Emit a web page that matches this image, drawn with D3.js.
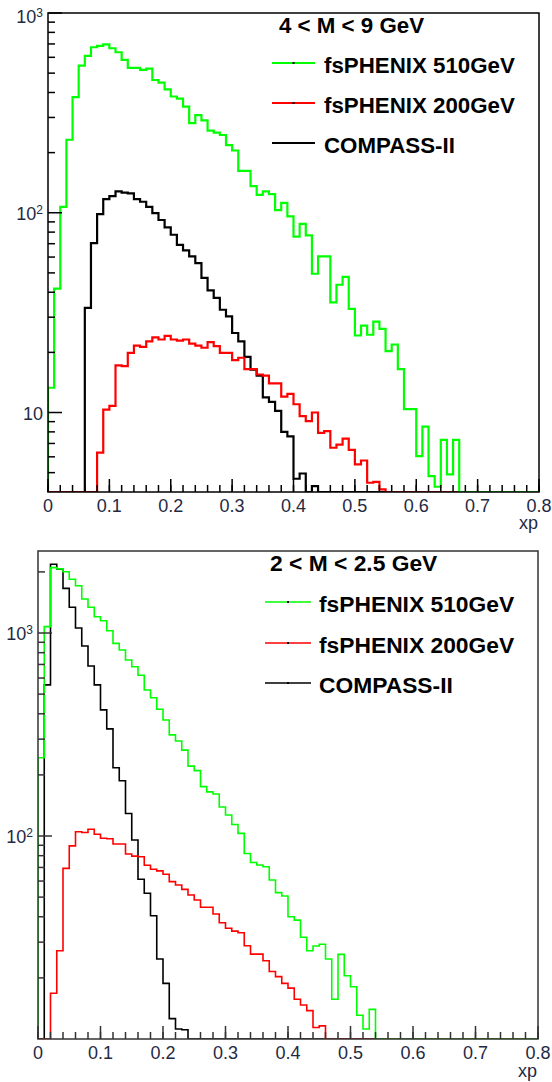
<!DOCTYPE html>
<html>
<head>
<meta charset="utf-8">
<script src="https://cdn.jsdelivr.net/npm/d3@7"></script>
<style>
  body { margin: 0; background: #fff; }
  svg text { font-family: "Liberation Sans", Arial, Helvetica, sans-serif; }
</style>
</head>
<body>
<div id="chart"></div>
<script>
// xp distributions, 80 bins of width 0.01 starting at xp = 0 (0 = empty bin)
const binWidth = 0.01;
const xpTicks = [0, 0.1, 0.2, 0.3, 0.4, 0.5, 0.6, 0.7, 0.8];
const seriesNames = ["fsPHENIX 510GeV", "fsPHENIX 200GeV", "COMPASS-II"];

// 4 < M < 9 GeV
const highMassTitle = "4 < M < 9 GeV";
const highMass510 = [
  13.3, 41.7, 107, 232, 379, 545, 610, 674, 684, 697,
  666, 636, 582, 531, 531, 519, 527, 462, 448, 415,
  382, 373, 340, 281, 308, 290, 258, 252, 245, 218,
  205, 162, 162, 136, 123, 128, 124, 103, 112, 96,
  76, 88, 77, 49.5, 60.5, 60.5, 35.6, 43.6, 47.7, 33,
  24.3, 27.2, 24.5, 28.5, 26.2, 20.3, 21.9, 16.5, 10.4, 10.4,
  6.05, 8.5, 4.8, 4.25, 7.3, 4.9, 7.3, 0, 0, 0,
  0, 0, 0, 0, 0, 0, 0, 0, 0, 0
];
const highMass200 = [
  0, 0, 0, 0, 0, 0, 0, 0, 6.3, 10.35,
  10.8, 17.2, 17.05, 19.9, 21.6, 21.3, 22.7, 23.8, 23.2, 24.2,
  23.2, 22.9, 23.2, 22.1, 21.6, 21.1, 22.5, 21.5, 19.9, 19.9,
  18.3, 18.8, 16.5, 16.5, 15.5, 15.3, 14.0, 14.0, 12.0, 12.4,
  11.0, 9.6, 9.05, 10.0, 7.9, 8.07, 6.66, 6.9, 7.4, 6.5,
  5.5, 5.75, 4.45, 4.5, 4.12, 0, 0, 0, 0, 0,
  0, 0, 0, 0, 0, 0, 0, 0, 0, 0,
  0, 0, 0, 0, 0, 0, 0, 0, 0, 0
];
const highMassCompass = [
  0, 0, 0, 0, 0, 0, 33.4, 70.5, 98.5, 117,
  121, 128, 126, 125, 117, 113.5, 107, 99.6, 92, 84.5,
  77.6, 69, 64.8, 60.5, 56, 47.2, 40.9, 37.5, 32.7, 30.3,
  25, 22.7, 19, 16.4, 15.3, 11.9, 11.3, 10.2, 8.0, 7.6,
  4.66, 4.95, 0, 4.28, 0, 0, 0, 0, 0, 0,
  0, 0, 0, 0, 0, 0, 0, 0, 0, 0,
  0, 0, 0, 0, 0, 0, 0, 0, 0, 0,
  0, 0, 0, 0, 0, 0, 0, 0, 0, 0
];

// 2 < M < 2.5 GeV
const lowMassTitle = "2 < M < 2.5 GeV";
const lowMass510 = [
  243, 1075, 2100, 2070, 2005, 1840, 1710, 1470, 1340, 1203,
  1150, 1026, 889, 824, 736, 682, 619, 524, 480, 421,
  373, 315, 294, 265, 221, 210, 175, 165, 161, 139,
  127, 114, 103, 82, 74, 72, 70.6, 60.7, 52.6, 50.6,
  40.0, 38.5, 31.7, 27.2, 28.7, 29.3, 24.8, 15.7, 26.1, 20.5,
  18.1, 13.1, 11.2, 14.0, 0, 0, 0, 0, 0, 0,
  0, 0, 0, 0, 0, 0, 0, 0, 0, 0,
  0, 0, 0, 0, 0, 0, 0, 0, 0, 0
];
const lowMass200 = [
  0, 0, 16.8, 27.2, 69.3, 89.4, 105, 104, 108, 102,
  97.5, 97, 91.4, 91.4, 81.5, 79.6, 79, 71.8, 68.6, 67.3,
  64.8, 59.6, 57.4, 54.6, 51.2, 48.4, 44.6, 44.6, 41.3, 37.4,
  35.1, 34.0, 33.4, 28.8, 26.2, 26.2, 24.3, 21.5, 20.3, 18.8,
  17.8, 15.7, 14.7, 13.8, 11.4, 11.6, 0, 0, 0, 0,
  0, 0, 0, 0, 0, 0, 0, 0, 0, 0,
  0, 0, 0, 0, 0, 0, 0, 0, 0, 0,
  0, 0, 0, 0, 0, 0, 0, 0, 0, 0
];
const lowMassCompass = [
  0, 555, 2180, 2060, 1660, 1340, 1058, 863, 688, 555,
  418, 337, 217, 187, 129, 95.5, 61.2, 52.2, 40.5, 24.8,
  18.8, 12.6, 11.2, 11.1, 0, 0, 0, 0, 0, 0,
  0, 0, 0, 0, 0, 0, 0, 0, 0, 0,
  0, 0, 0, 0, 0, 0, 0, 0, 0, 0,
  0, 0, 0, 0, 0, 0, 0, 0, 0, 0,
  0, 0, 0, 0, 0, 0, 0, 0, 0, 0,
  0, 0, 0, 0, 0, 0, 0, 0, 0, 0
];

const colors = ["#00ff00", "#ff0000", "#000000"];
const labelColor = "#1f2a44";

const svg = d3.select("#chart")
  .append("svg")
  .attr("width", 552)
  .attr("height", 1082)
  .style("display", "block");

function drawPanel(opt) {
  const g = svg.append("g");
  const x = d3.scaleLinear().domain([0, 0.8]).range([opt.left, opt.right]);
  const y = d3.scaleLog().domain(opt.yDomain).range([opt.bottom, opt.top]);
  const yMin = opt.yDomain[0];

  // clip to the frame
  const clipId = "clip" + opt.id;
  g.append("clipPath").attr("id", clipId)
    .append("rect")
    .attr("x", opt.left).attr("y", opt.top - 2)
    .attr("width", opt.right - opt.left)
    .attr("height", opt.bottom - opt.top + 2);

  const line = d3.line()
    .x(d => x(d.x))
    .y(d => y(Math.max(d.v, yMin)))
    .curve(d3.curveStepAfter);

  // draw black first, then red, then green on top
  [2, 1, 0].forEach(k => {
    const counts = opt.series[k];
    const pts = [{x: 0, v: 0}];
    counts.forEach((c, i) => pts.push({x: i * binWidth, v: c}));
    pts.push({x: counts.length * binWidth, v: counts[counts.length - 1]});
    g.append("path")
      .attr("clip-path", `url(#${clipId})`)
      .attr("d", line(pts))
      .attr("fill", "none")
      .attr("stroke", colors[k])
      .attr("stroke-width", opt.histWidth);
  });

  // frame
  g.append("rect")
    .attr("x", opt.left).attr("y", opt.top)
    .attr("width", opt.right - opt.left)
    .attr("height", opt.bottom - opt.top)
    .attr("fill", "none")
    .attr("stroke", opt.frameColor)
    .attr("stroke-width", 1.5);

  // x axis ticks (inside, pointing up)
  const xMinor = d3.range(0, 41).map(i => i * 0.02);
  g.selectAll(".xminor").data(xMinor).enter().append("line")
    .attr("x1", d => x(d)).attr("x2", d => x(d))
    .attr("y1", opt.bottom).attr("y2", opt.bottom - 7)
    .attr("stroke", opt.frameColor).attr("stroke-width", 1.5);
  g.selectAll(".xmajor").data(xpTicks).enter().append("line")
    .attr("x1", d => x(d)).attr("x2", d => x(d))
    .attr("y1", opt.bottom).attr("y2", opt.bottom - 13)
    .attr("stroke", opt.frameColor).attr("stroke-width", 1.5);
  g.selectAll(".xlab").data(xpTicks).enter().append("text")
    .attr("x", d => x(d))
    .attr("y", opt.bottom + 20)
    .attr("text-anchor", "middle")
    .attr("font-size", 18)
    .attr("fill", labelColor)
    .text(d => d === 0 ? "0" : d3.format(".1f")(d));
  g.append("text")
    .attr("x", opt.right - 1)
    .attr("y", opt.xpY)
    .attr("text-anchor", "end")
    .attr("font-size", 18)
    .attr("fill", labelColor)
    .text("xp");

  // y axis ticks (inside, pointing right)
  const yAll = y.ticks(30).filter(d => d > yMin * 1.001 && d < opt.yDomain[1] * 0.999);
  const yMajor = opt.yMajor;
  const yMinorTicks = yAll.filter(d => yMajor.indexOf(d) < 0);
  g.selectAll(".yminor").data(yMinorTicks).enter().append("line")
    .attr("x1", opt.left).attr("x2", opt.left + 7)
    .attr("y1", d => y(d)).attr("y2", d => y(d))
    .attr("stroke", opt.frameColor).attr("stroke-width", 1.5);
  g.selectAll(".ymajor").data(yMajor).enter().append("line")
    .attr("x1", opt.left).attr("x2", opt.left + 14)
    .attr("y1", d => y(d)).attr("y2", d => y(d))
    .attr("stroke", opt.frameColor).attr("stroke-width", 1.5);

  yMajor.forEach(v => {
    const exp = Math.round(Math.log10(v));
    const t = g.append("text")
      .attr("x", opt.left - 5)
      .attr("y", Math.max(y(v) + 7, opt.top + 10))
      .attr("text-anchor", "end")
      .attr("font-size", 18)
      .attr("fill", labelColor);
    t.append("tspan").text("10");
    if (exp > 1) {
      t.append("tspan").attr("dy", -6).attr("font-size", 12).text(exp);
    }
  });

  // title and legend
  g.append("text")
    .attr("x", opt.titleX).attr("y", opt.titleY)
    .attr("font-size", opt.legendFont)
    .attr("font-weight", "bold")
    .text(opt.title);

  seriesNames.forEach((name, k) => {
    const ly = opt.legendY[k];
    g.append("line")
      .attr("x1", opt.legendX1).attr("x2", opt.legendX2)
      .attr("y1", ly).attr("y2", ly)
      .attr("stroke", colors[k])
      .attr("stroke-width", opt.histWidth);
    g.append("rect")
      .attr("x", (opt.legendX1 + opt.legendX2) / 2 - 1)
      .attr("y", ly - 1)
      .attr("width", 2).attr("height", 2)
      .attr("fill", "#000");
    g.append("text")
      .attr("x", opt.legendTextX).attr("y", ly + 10)
      .attr("font-size", opt.legendFont)
      .attr("font-weight", "bold")
      .text(name);
  });
}

drawPanel({
  id: "top",
  left: 48, right: 539, top: 13, bottom: 492,
  yDomain: [4.0, 1000],
  yMajor: [10, 100, 1000],
  series: [highMass510, highMass200, highMassCompass],
  histWidth: 2.2,
  frameColor: "#000",
  xpY: 529,
  title: highMassTitle,
  titleX: 279, titleY: 33,
  legendX1: 272, legendX2: 315, legendTextX: 324,
  legendY: [63, 103, 143],
  legendFont: 22.3
});

drawPanel({
  id: "bottom",
  left: 38, right: 538, top: 551, bottom: 1039,
  yDomain: [10, 2535],
  yMajor: [100, 1000],
  series: [lowMass510, lowMass200, lowMassCompass],
  histWidth: 1.6,
  frameColor: "#333",
  xpY: 1077,
  title: lowMassTitle,
  titleX: 270, titleY: 571,
  legendX1: 265, legendX2: 311, legendTextX: 319,
  legendY: [602, 643, 683],
  legendFont: 22.8
});
</script>
</body>
</html>
